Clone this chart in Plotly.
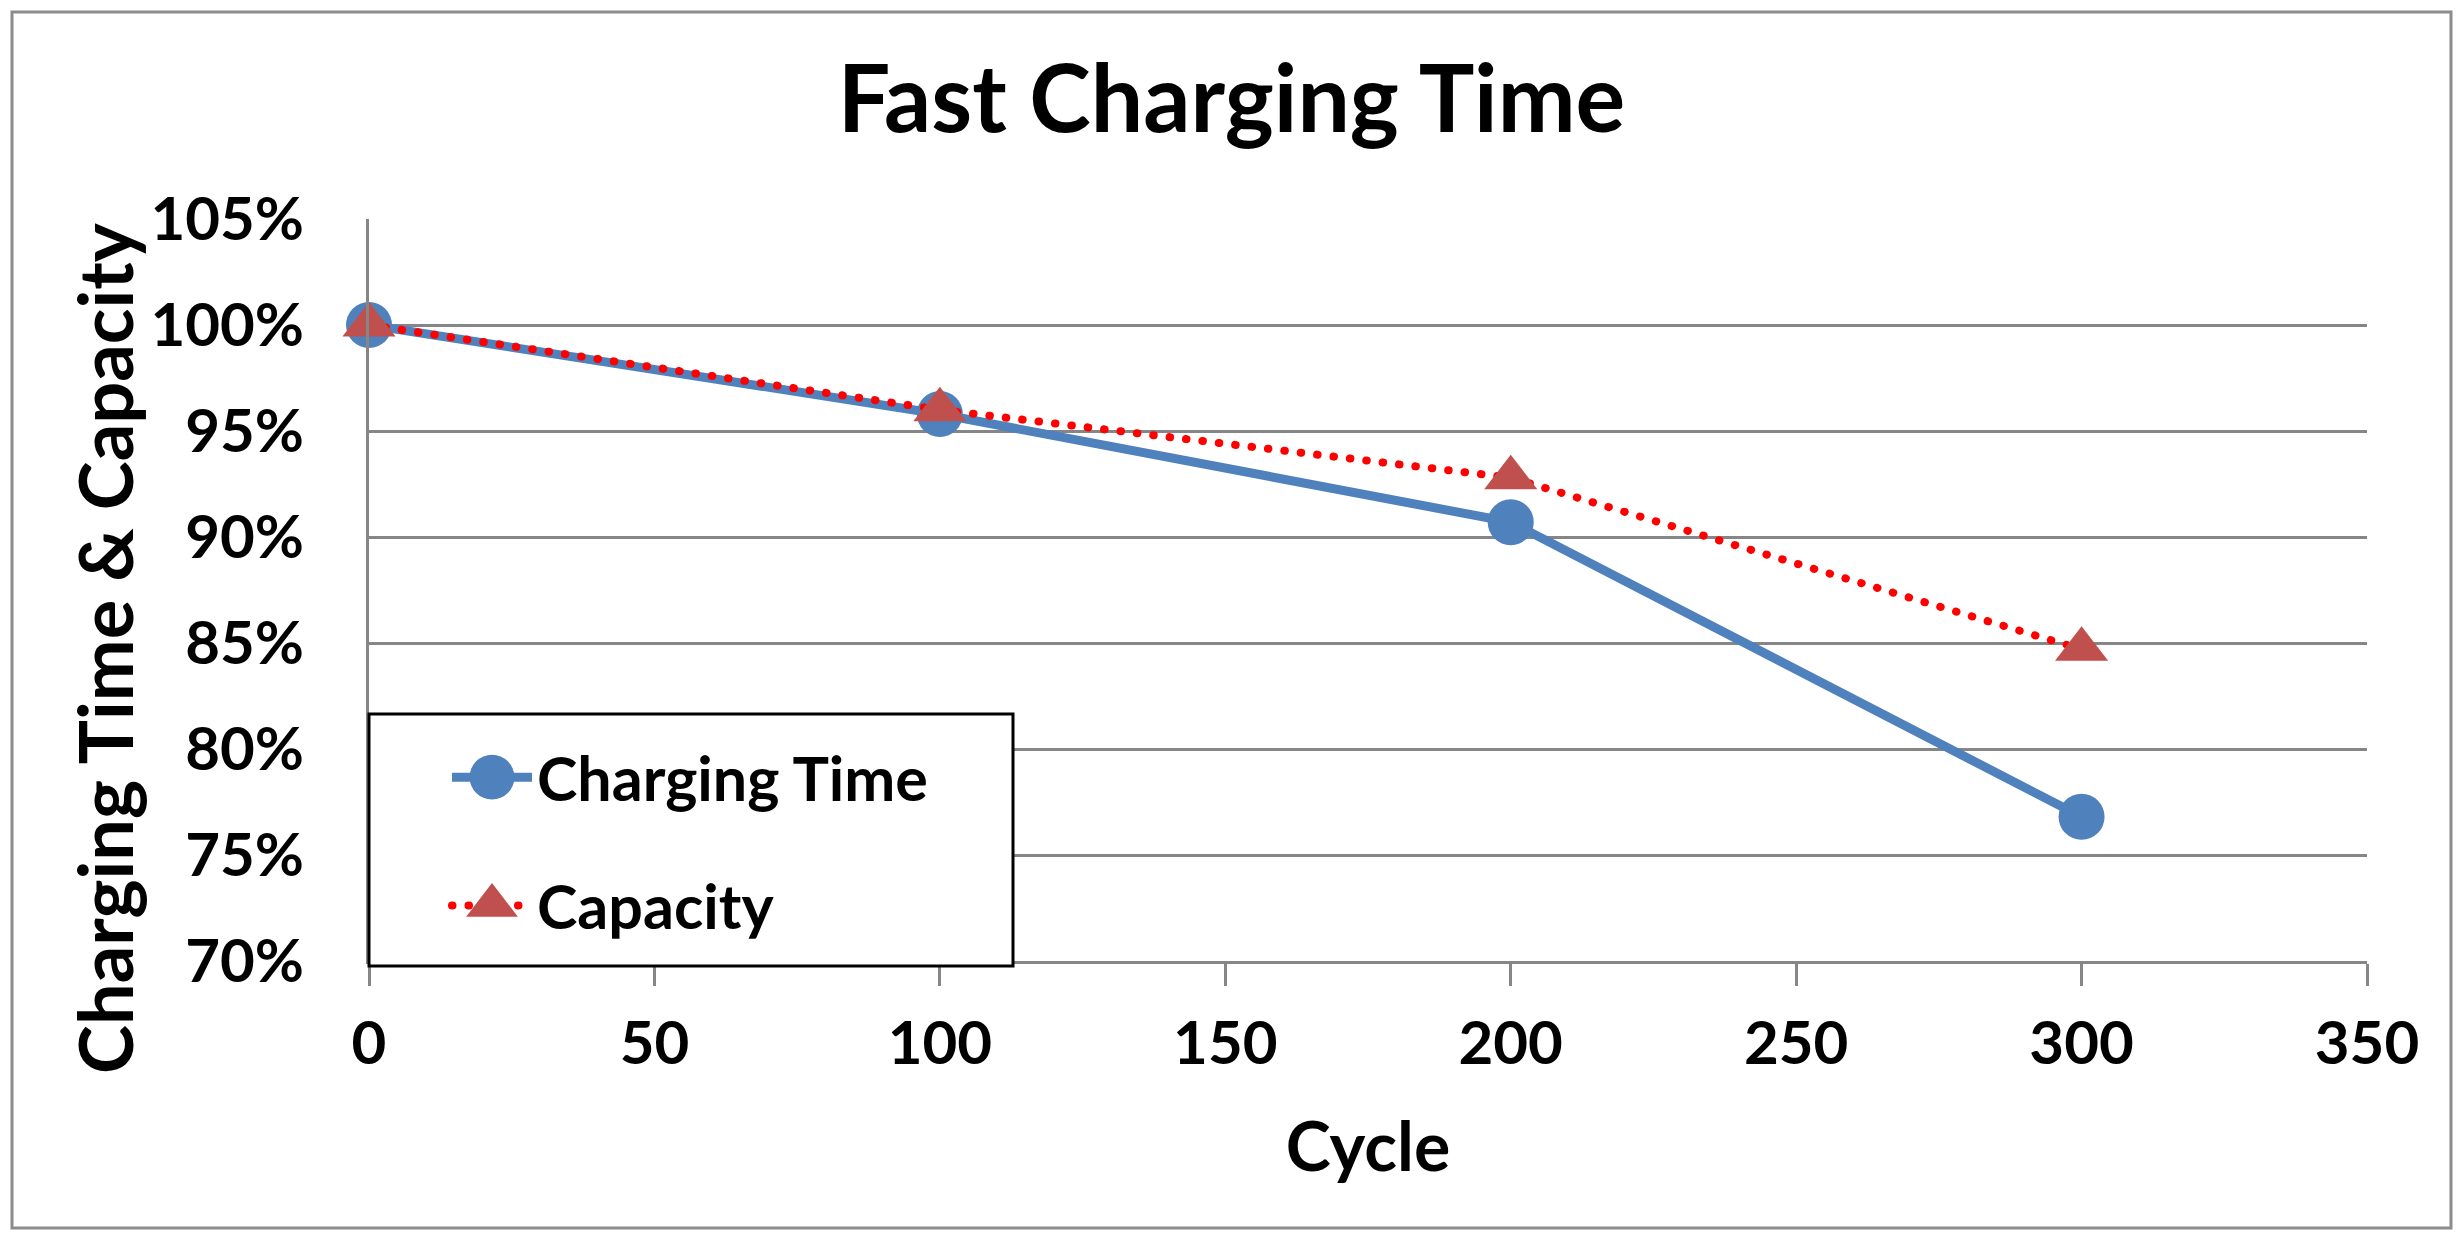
import plotly.graph_objects as go

# ---- data ----
cycles = [0, 100, 200, 300]
charging_time = [1.000, 0.958, 0.907, 0.768]
capacity = [1.000, 0.960, 0.928, 0.847]
x_ticks = [0, 50, 100, 150, 200, 250, 300, 350]
y_ticks = [0.70, 0.75, 0.80, 0.85, 0.90, 0.95, 1.00, 1.05]

W, H = 2463, 1239
L, R, T, B = 369, 96, 219, 278
pw, ph = W - L - R, H - T - B

FONT = "Lato"
GRID = "#868686"

fig = go.Figure()
fig.add_trace(go.Scatter(
    x=cycles, y=charging_time, name="Charging Time", mode="lines+markers",
    line=dict(color="#4F81BD", width=9),
    marker=dict(symbol="circle", size=46, color="#4F81BD", line=dict(width=0)),
    cliponaxis=False, legendgroup="a",
))
fig.add_trace(go.Scatter(
    x=cycles, y=capacity, name="Capacity", mode="lines+markers",
    line=dict(color="#FF0000", width=8, dash="0.5px,16px"),
    marker=dict(symbol="triangle-up", size=46, color="#C0504D", line=dict(width=0)),
    cliponaxis=False, legendgroup="b",
))

def px_x(px):
    return (px - L) / pw

def px_y(py):
    return (H - B - py) / ph

shapes = [
    # outer chart border
    dict(type="rect", xref="paper", yref="paper", layer="below",
         x0=px_x(12), x1=px_x(2451), y0=px_y(1228), y1=px_y(12),
         line=dict(color="#8C8C8C", width=3), fillcolor="rgba(0,0,0,0)"),
    # legend box
    dict(type="rect", xref="paper", yref="paper", layer="above",
         x0=px_x(369), x1=px_x(1013), y0=px_y(966), y1=px_y(714),
         line=dict(color="#000000", width=3), fillcolor="#FFFFFF"),
]

fig.update_layout(
    width=W, height=H,
    margin=dict(l=L, r=R, t=T, b=B, autoexpand=False),
    paper_bgcolor="white", plot_bgcolor="white",
    font=dict(family=FONT, color="black", size=60, weight="bold"),
    title=dict(text="Fast Charging Time", x=0.5, xanchor="center",
               y=1 - 99 / H, yanchor="middle", yref="container",
               font=dict(family=FONT, size=93, color="black", weight="bold")),
    showlegend=True,
    legend=dict(x=px_x(447), y=px_y(731), xanchor="left", yanchor="top",
                bgcolor="rgba(0,0,0,0)", borderwidth=0,
                font=dict(family=FONT, size=61, color="black", weight="bold"),
                itemwidth=80, tracegroupgap=46, traceorder="grouped"),
    shapes=shapes,
    annotations=[dict(
        text="Charging Time &amp; Capacity", textangle=-90,
        xref="paper", yref="paper", x=px_x(104), y=px_y(649),
        xanchor="center", yanchor="middle", showarrow=False,
        font=dict(family=FONT, size=74, color="black", weight="bold"),
    )],
)

fig.update_xaxes(
    range=[0, 350], tickvals=x_ticks, ticktext=[str(v) for v in x_ticks],
    showgrid=False, zeroline=False,
    showline=True, linecolor=GRID, linewidth=3,
    ticks="outside", ticklen=22, tickwidth=3, tickcolor=GRID,
    ticklabelstandoff=6,
    tickfont=dict(family=FONT, size=60, color="black", weight="bold"),
    title=dict(text="Cycle", standoff=48,
               font=dict(family=FONT, size=68, color="black", weight="bold")),
)
fig.update_yaxes(
    range=[0.70, 1.05], tickvals=y_ticks, tickformat=".0%",
    showgrid=True, gridcolor=GRID, gridwidth=3, zeroline=False,
    showline=True, linecolor=GRID, linewidth=3,
    ticks="", ticklabelstandoff=50,
    tickfont=dict(family=FONT, size=60, color="black", weight="bold"),
)

post = """
document.body.style.margin='0';
var st = document.createElement('style');
st.textContent = 'path.js-line[style*="dasharray"]{stroke-linecap:round;}';
document.head.appendChild(st);
var gd = document.getElementById('{plot_id}');
function fixLegend(){
  gd.querySelectorAll('.legend .legendpoints path.scatterpts').forEach(function(p){
    var t = p.getAttribute('transform') || '';
    if (t.indexOf('scale') < 0) { p.setAttribute('transform', t + ' scale(2.8)'); }
  });
}
fixLegend();
gd.on('plotly_afterplot', fixLegend);
"""

fig.write_html("out.html", post_script=post, config={"displayModeBar": False})
